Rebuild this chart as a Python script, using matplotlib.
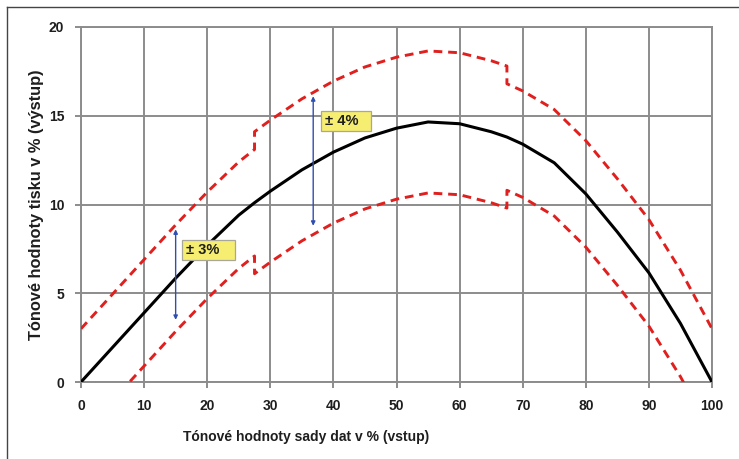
import numpy as np
import matplotlib.pyplot as plt
from matplotlib.patches import Rectangle
from matplotlib.lines import Line2D

plt.rcParams['font.family'] = ['Liberation Sans', 'DejaVu Sans']

# ---- data ----
x_in = [0, 5, 10, 15, 20, 25, 27.5, 30, 35, 40, 45, 50, 55, 60, 65, 67.5, 70, 75, 80, 85, 90, 95, 100]
y_out = [0, 1.95, 3.9, 5.85, 7.7, 9.4, 10.1, 10.75, 11.95, 12.95, 13.75, 14.3, 14.65, 14.55,
         14.1, 13.8, 13.4, 12.35, 10.6, 8.45, 6.15, 3.3, 0]

# tolerance zones: (from, to, +/- value)
zones = [(0, 27.5, 3), (27.5, 67.5, 4), (67.5, 100, 3)]

x_ticks = list(range(0, 101, 10))
y_ticks = list(range(0, 21, 5))

xlabel = "Tónové hodnoty sady dat v % (vstup)"
ylabel = "Tónové hodnoty tisku v % (výstup)"

# ---- build tolerance bands ----
x_arr = np.array(x_in)
y_arr = np.array(y_out)
up_x, up_y, lo_x, lo_y = [], [], [], []
for a, b, tol in zones:
    m = (x_arr >= a) & (x_arr <= b)
    up_x += list(x_arr[m]); up_y += list(y_arr[m] + tol)
    lo_x += list(x_arr[m]); lo_y += list(y_arr[m] - tol)

# ---- figure ----
fig = plt.figure(figsize=(7.39, 4.59), dpi=100)
W, H = 739, 459
ax = fig.add_axes([81 / W, 1 - 382 / H, (712 - 81) / W, (382 - 27) / H])

grid_c = '#8c8c8c'
ax.set_xlim(0, 100)
ax.set_ylim(0, 20)
ax.set_xticks(x_ticks)
ax.set_yticks(y_ticks)
ax.grid(True, color=grid_c, lw=1.4)
ax.set_axisbelow(True)
for s in ax.spines.values():
    s.set_color(grid_c)
    s.set_linewidth(1.4)
ax.tick_params(length=4, width=1.4, color=grid_c, pad=8, labelsize=10, labelcolor='#1e1e1e')
for lbl in ax.get_xticklabels() + ax.get_yticklabels():
    lbl.set_fontweight('bold')

red = '#e0201e'
ax.plot(up_x, up_y, color=red, lw=2.1, dashes=(3, 2), zorder=3)
ax.plot(lo_x, lo_y, color=red, lw=2.1, dashes=(3, 2), zorder=3)
ax.plot(x_in, y_out, color='black', lw=2.2, zorder=4)

# arrows
blue = '#2f4fb0'
for xa, y0, y1 in [(15, 3.5, 8.6), (36.8, 8.8, 16.1)]:
    ax.annotate('', xy=(xa, y1), xytext=(xa, y0),
                arrowprops=dict(arrowstyle='<|-|>', color=blue, lw=1, mutation_scale=6,
                                shrinkA=0, shrinkB=0), zorder=5)

# yellow labels
for (x0, y0, w, h, txt) in [(16.0, 6.85, 8.4, 1.13, '± 3%'), (38.1, 14.16, 7.9, 1.08, '± 4%')]:
    ax.add_patch(Rectangle((x0, y0), w, h, fc='#f6ee70', ec='#a9a79a', lw=0.9, zorder=6))
    ax.text(x0 + 0.6, y0 + h / 2, txt, ha='left', va='center', fontsize=10.5,
            fontweight='bold', color='#1e1e1e', zorder=7)

ax.set_xlabel(xlabel, fontsize=10, fontweight='bold', color='#1e1e1e')
ax.xaxis.set_label_coords(0.356, -0.135)
ax.set_ylabel(ylabel, fontsize=11.8, fontweight='bold', color='#1e1e1e')
ax.yaxis.set_label_coords(-0.058, 0.5)

# frame lines of the cropped panel (top and left only)
fig.add_artist(Line2D([7 / W, 1], [1 - 7 / H, 1 - 7 / H], transform=fig.transFigure, color='#444444', lw=1))
fig.add_artist(Line2D([7 / W, 7 / W], [0, 1 - 7 / H], transform=fig.transFigure, color='#444444', lw=1))

fig.savefig('out.png', dpi=100, facecolor='white')
